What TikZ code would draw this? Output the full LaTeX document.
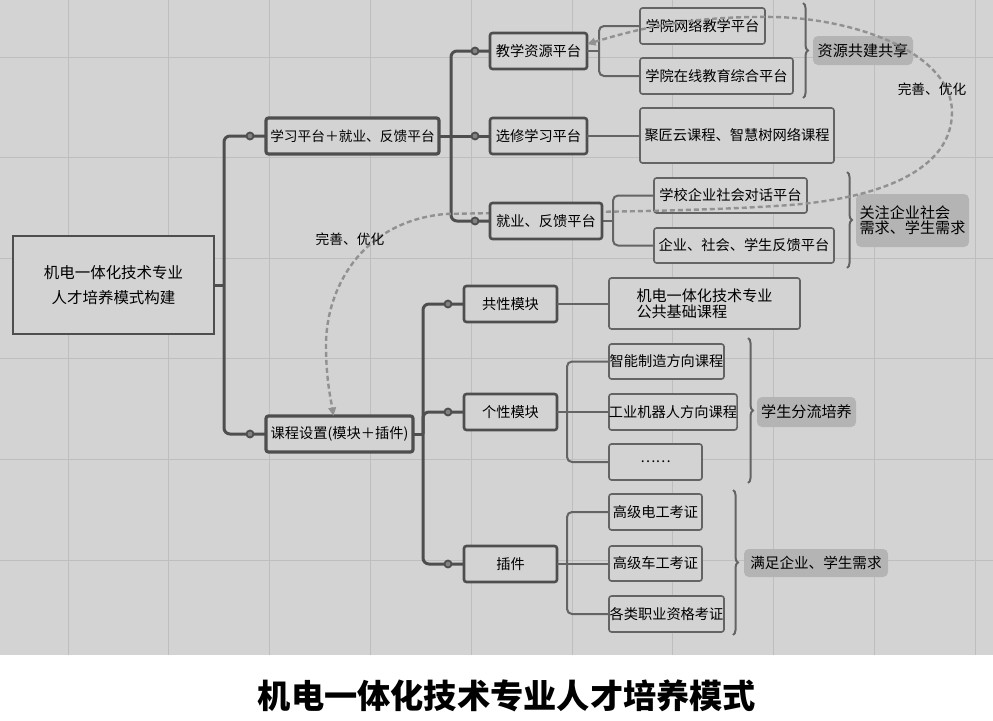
\documentclass[tikz,border=0pt]{standalone}
\usepackage{fontspec}
\setmainfont{Noto Sans CJK SC}
\usetikzlibrary{calc,arrows.meta,decorations.pathreplacing}
\definecolor{bgc}{RGB}{211,211,211}
\definecolor{gridc}{RGB}{190,190,190}
\definecolor{linec}{RGB}{78,78,78}
\definecolor{leafc}{RGB}{100,100,100}
\definecolor{tagc}{RGB}{180,180,180}
\definecolor{dashc}{RGB}{145,145,145}
\definecolor{knobc}{RGB}{130,130,130}
\newlength{\PX}\setlength{\PX}{0.02cm}
\pgfdeclarelayer{front}
\pgfsetlayers{main,front}
\newcommand{\fsz}[2]{\fontsize{#1}{#2}\selectfont}
\tikzset{
  sz/.style 2 args={minimum width=#1\PX, minimum height=#2\PX},
  box/.style={draw=linec, fill=bgc, inner sep=0pt, outer sep=0pt, rounded corners=2.5\PX, font=\fsz{8.1}{10}},
  rootbox/.style={box, rounded corners=0pt, line width=2\PX, align=center, font=\fsz{8.8}{14.2}},
  lone/.style={box, line width=3.2\PX},
  ltwo/.style={box, line width=2.6\PX},
  leaf/.style={box, draw=leafc, line width=1.6\PX},
  tag/.style={fill=tagc, rounded corners=5\PX, inner sep=0pt, outer sep=0pt, font=\fsz{8.6}{10}},
  trunk/.style={draw=linec, line width=3\PX, rounded corners=6\PX},
  twig/.style={draw=leafc, line width=2\PX, rounded corners=5\PX},
  knob/.style={circle, draw=linec, fill=knobc, line width=1.8\PX, minimum size=7\PX, inner sep=0pt},
  bracec/.style={draw=leafc, line width=2\PX, decorate, decoration={brace, amplitude=5\PX}},
  fbloop/.style={draw=dashc, line width=2.4\PX, dash pattern=on 5\PX off 3\PX,
     {Triangle[length=0.17cm,width=0.15cm]}-{Triangle[length=0.17cm,width=0.15cm]}},
  note/.style={inner sep=0pt, font=\fsz{7.8}{9}},
}
\begin{document}
\begin{tikzpicture}[x=0.02cm, y=-0.02cm]
\useasboundingbox (0,0) rectangle (993,720);
\fill[white] (0,0) rectangle (993,720);
\fill[bgc] (0,0) rectangle (993,655);
\foreach \gx in {68,168,269,370,471,572,672,773,874,975}
  \draw[gridc, line width=1\PX] (\gx,0) -- (\gx,655);
\foreach \gy in {57,157,258,358,459,560}
  \draw[gridc, line width=1\PX] (0,\gy) -- (993,\gy);

% junction coordinates
\coordinate (tA) at (224,285);
\coordinate (tB) at (451,136);
\coordinate (tC) at (423,434);
\coordinate (tD) at (599,51);
\coordinate (tE) at (613,221);
\coordinate (tF) at (567,412);
\coordinate (tG) at (567,564);
\coordinate (dA) at (250,136);
\coordinate (dB) at (250,434);
\coordinate (dC) at (475,136);
\coordinate (dD) at (475,51);
\coordinate (dE) at (475,221);
\coordinate (dF) at (448,304);
\coordinate (dG) at (448,412);
\coordinate (dH) at (448,564);

% nodes
\node[rootbox, sz={201}{98}] (root) at (113.5,285) {机电一体化技术专业\\人才培养模式构建};
\node[lone, sz={173}{36}, font=\fsz{7.8}{9}] (la) at (352.5,136) {学习平台＋就业、反馈平台};
\node[lone, sz={147}{36}] (lb) at (339.5,434) {课程设置(模块＋插件)};

\node[ltwo, sz={97}{36}] (jx) at (538.5,51) {教学资源平台};
\node[ltwo, sz={97}{36}] (xx) at (538.5,136) {选修学习平台};
\node[ltwo, sz={93}{36}] (gx) at (510.5,304) {共性模块};
\node[ltwo, sz={93}{36}] (px) at (510.5,412) {个性模块};
\node[ltwo, sz={93}{36}] (cj) at (510.5,564) {插件};

\node[leaf, sz={125}{36}] (w1) at (702.5,26) {学院网络教学平台};
\node[leaf, sz={153}{36}] (w2) at (716.5,76) {学院在线教育综合平台};
\node[leaf, sz={194}{55}] (jj) at (737,135.5) {聚匠云课程、智慧树网络课程};
\node[leaf, sz={153}{35}] (s1) at (730.5,195.5) {学校企业社会对话平台};
\node[leaf, sz={180}{35}] (s2) at (744,245.5) {企业、社会、学生反馈平台};
\node[leaf, sz={191}{51}, align=left, font=\fsz{8.6}{9.1}] (gg) at (704.5,303.5) {机电一体化技术专业\\公共基础课程};
\node[leaf, sz={115}{35}] (p1) at (666.5,361.5) {智能制造方向课程};
\node[leaf, sz={128}{36}] (p2) at (673,412) {工业机器人方向课程};
\node[leaf, sz={93}{36}] (p3) at (655.5,462) {……};
\node[leaf, sz={93}{36}] (c1) at (655.5,512) {高级电工考证};
\node[leaf, sz={93}{35}] (c2) at (655.5,563.5) {高级车工考证};
\node[leaf, sz={115}{36}] (c3) at (666.5,614) {各类职业资格考证};

\node[tag, sz={100}{29}] (t1) at (863,50.5) {资源共建共享};
\node[tag, sz={113}{53}, align=left, font=\fsz{8.6}{8.6}] (t2) at (912.5,220.5) {关注企业社会\\需求、学生需求};
\node[tag, sz={99}{30}] (t3) at (806.5,412) {学生分流培养};
\node[tag, sz={144}{28}, font=\fsz{8.3}{10}] (t4) at (816,563) {满足企业、学生需求};

\begin{pgfonlayer}{front}
\node[ltwo, sz={112}{36}] (jy) at (546,221) {就业、反馈平台};
\end{pgfonlayer}

% trunk connectors
\draw[trunk] (root.east) -- (tA);
\draw[trunk] (la.west) -- (dA) -| (tA) |- (dB) -- (lb.west);
\draw[trunk] (la.east) -- (xx.west);
\draw[trunk] (jx.west) -- (dD) -| (tB) |- (dE) -- (jy.west);
\draw[trunk] (lb.east) -- (tC);
\draw[trunk] (gx.west) -- (dF) -| (tC) |- (dH) -- (cj.west);
\draw[trunk] (px.west) -- (dG) -| (tC);

% twig connectors
\draw[twig] (jx.east) -- (tD);
\draw[twig] (w1.west) -| (tD) |- (w2.west);
\draw[twig] (xx.east) -- (xx.east -| jj.west);
\draw[twig] (jy.east) -- (tE);
\draw[twig] (s1.west) -| (tE) |- (s2.west);
\draw[twig] (gx.east) -- (gx.east -| gg.west);
\draw[twig] (px.east) -- (px.east -| p2.west);
\draw[twig] (p1.west) -| (tF) |- (p3.west);
\draw[twig] (cj.east) -- (cj.east -| c2.west);
\draw[twig] (c1.west) -| (tG) |- (c3.west);

% braces
\coordinate (b1a) at (803,3);   \coordinate (b1b) at (803,98);
\coordinate (b2a) at (847,172); \coordinate (b2b) at (847,268);
\coordinate (b3a) at (748,338); \coordinate (b3b) at (748,483);
\coordinate (b4a) at (733,490); \coordinate (b4b) at (733,635);
\draw[bracec] (b1a) -- (b1b);
\draw[bracec] (b2a) -- (b2b);
\draw[bracec] (b3a) -- (b3b);
\draw[bracec] (b4a) -- (b4b);

% feedback loop
\draw[fbloop] (jx.8) .. controls (650,25) and (700,16) .. (775,17)
  .. controls (860,19) and (952,55) .. (952,112)
  .. controls (952,170) and (880,198) .. (790,205)
  .. controls (680,213) and (520,212) .. (445,214)
  .. controls (360,222) and (326,290) .. (326,345)
  .. controls (326,380) and (331,400) .. ($(lb.north)+(-6,0)$);
\node[note] (o1) at (932,89) {完善、优化};
\node[note] (o2) at (350,239) {完善、优化};

% knobs
\begin{pgfonlayer}{front}
\foreach \k in {dA,dB,dC,dD,dE,dF,dG,dH}
  \node[knob] (k\k) at (\k) {};
\end{pgfonlayer}

% title
\node[font=\fsz{18.9}{22}\bfseries] (title) at (507,696) {机电一体化技术专业人才培养模式};
\end{tikzpicture}
\end{document}
